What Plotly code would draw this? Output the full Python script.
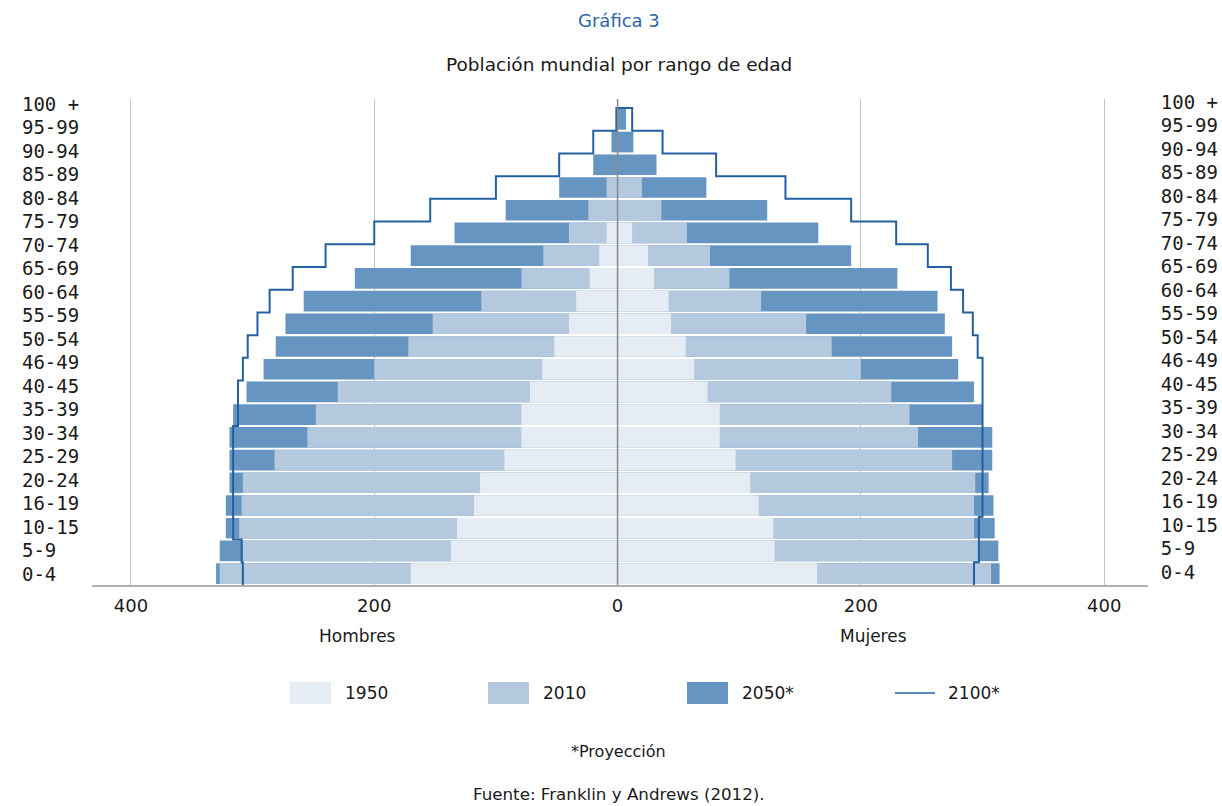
import plotly.graph_objects as go

# ---------------- data (millions) ----------------
age_groups = ["0-4", "5-9", "10-15", "16-19", "20-24", "25-29", "30-34", "35-39",
              "40-45", "46-49", "50-54", "55-59", "60-64", "65-69", "70-74", "75-79",
              "80-84", "85-89", "90-94", "95-99", "100 +"]

men_1950 = [170, 137, 132, 118, 113, 93, 79, 79, 72, 62, 52, 40, 34, 23, 15, 9, 0, 0, 0, 0, 0]
men_2010 = [327, 308, 311, 309, 308, 282, 255, 248, 230, 200, 172, 152, 112, 79, 61, 40, 24, 9, 0, 0, 0]
men_2050 = [330, 327, 322, 322, 319, 319, 319, 316, 305, 291, 281, 273, 258, 216, 170, 134, 92, 48, 20, 5, 1]
men_2100 = [308, 309, 316, 316, 316, 316, 316, 312, 312, 308, 304, 296, 286, 267, 240, 200, 154, 100, 48, 20, 1]

women_1950 = [164, 129, 128, 116, 109, 97, 84, 84, 74, 63, 56, 44, 42, 30, 25, 12, 0, 0, 0, 0, 0]
women_2010 = [307, 297, 293, 293, 294, 275, 247, 240, 225, 200, 176, 155, 118, 92, 76, 57, 36, 20, 0, 0, 0]
women_2050 = [314, 313, 310, 309, 305, 308, 308, 300, 293, 280, 275, 269, 263, 230, 192, 165, 123, 73, 32, 13, 7]
women_2100 = [293, 297, 297, 300, 300, 300, 300, 300, 300, 300, 296, 292, 284, 274, 255, 229, 192, 138, 81, 37, 12]

series_names = ["1950", "2010", "2050*", "2100*"]
x_tick_vals = [-400, -200, 0, 200, 400]
x_tick_text = ["400", "200", "0", "200", "400"]

# ---------------- style ----------------
C1950 = "#e5ecf4"
C2010 = "#b4c9de"
C2050 = "#6795c1"
CLINE = "#2460a0"
TEXT = "#1a1a1a"
FONT = "DejaVu Sans"
MONO = "DejaVu Sans Mono"

W, H = 1222, 806
L, R, T, B = 92, 74, 99, 221
PW, PH = W - L - R, H - T - B


def px(xp):
    return (xp - L) / PW


def py(yp):
    return (H - B - yp) / PH


n = len(age_groups)
idx = list(range(n))

fig = go.Figure()

# bars: 2050 at back, 2010, 1950 in front
for name, m, w, col in [("2050*", men_2050, women_2050, C2050),
                        ("2010", men_2010, women_2010, C2010),
                        ("1950", men_1950, women_1950, C1950)]:
    fig.add_trace(go.Bar(y=idx, x=[-v for v in m], orientation="h", width=0.91,
                         marker=dict(color=col, line=dict(width=0)), name=name,
                         showlegend=False, hoverinfo="skip"))
    fig.add_trace(go.Bar(y=idx, x=w, orientation="h", width=0.91,
                         marker=dict(color=col, line=dict(width=0)), name=name,
                         showlegend=False, hoverinfo="skip"))

# 2100 outline as stepped line (men bottom->top, across top, women top->bottom)
lx = [-men_2100[0]] + [-v for v in men_2100] + [-men_2100[-1], women_2100[-1]] \
     + women_2100[::-1] + [women_2100[0]]
ly = [-0.5] + idx + [n - 0.5, n - 0.5] + idx[::-1] + [-0.5]
fig.add_trace(go.Scatter(x=lx, y=ly, mode="lines", name="2100*",
                         line=dict(color=CLINE, width=2, shape="vhv"),
                         showlegend=False, hoverinfo="skip"))

# invisible traces carrying the left / right age-label axes
for ax in ["y2", "y3"]:
    fig.add_trace(go.Scatter(x=[0] * n, y=idx, yaxis=ax, mode="markers",
                             marker=dict(opacity=0), showlegend=False, hoverinfo="skip"))

left_labels = [a.ljust(5, "\u00a0") for a in age_groups]

fig.update_layout(
    width=W, height=H,
    margin=dict(l=L, r=R, t=T, b=B, autoexpand=False),
    paper_bgcolor="white", plot_bgcolor="white",
    barmode="overlay",
    font=dict(family=FONT, size=17, color=TEXT),
    xaxis=dict(range=[-432, 436], tickvals=x_tick_vals, ticktext=x_tick_text,
               showgrid=True, gridcolor="#c4c4c4", gridwidth=1.2, automargin=False,
               zeroline=False, showline=True, linecolor="#b0b0b0", linewidth=1.5,
               ticks="outside", ticklen=4, tickcolor="rgba(0,0,0,0)",
               tickfont=dict(family=FONT, size=18, color=TEXT), fixedrange=True),
    yaxis=dict(range=[-0.5, n - 0.5 + 9 / 22.714], showticklabels=False, automargin=False,
               showgrid=False, zeroline=False, showline=False, fixedrange=True),
    yaxis2=dict(overlaying="y", side="left", range=[-0.468, 20.213], automargin=False,
                tickvals=idx, ticktext=left_labels, showgrid=False, zeroline=False,
                showline=False, ticks="outside", ticklen=8, tickcolor="rgba(0,0,0,0)",
                tickfont=dict(family=MONO, size=19, color=TEXT), fixedrange=True),
    yaxis3=dict(overlaying="y", side="right", range=[-0.553, 20.128], automargin=False,
                tickvals=idx, ticktext=age_groups, showgrid=False, zeroline=False,
                showline=False, ticks="outside", ticklen=8, tickcolor="rgba(0,0,0,0)",
                tickfont=dict(family=MONO, size=19, color=TEXT), fixedrange=True),
)

# zero line above bars
fig.add_shape(type="line", xref="x", yref="paper", x0=0, x1=0, y0=0, y1=1,
              line=dict(color="#8a8a8a", width=1.5), layer="above")

ann = []
ann.append(dict(text="Gráfica 3", x=px(619), y=py(20), font=dict(size=18, color="#2d66a8")))
ann.append(dict(text="Población mundial por rango de edad", x=px(619), y=py(64),
                font=dict(size=18.5, color=TEXT)))
ann.append(dict(text="Hombres", x=px(357), y=py(636), font=dict(size=17, color=TEXT)))
ann.append(dict(text="Mujeres", x=px(873), y=py(636), font=dict(size=17, color=TEXT)))
ann.append(dict(text="*Proyección", x=px(618), y=py(751), font=dict(size=16, color=TEXT)))
ann.append(dict(text="Fuente: Franklin y Andrews (2012).", x=px(619), y=py(794),
                font=dict(size=16.7, color=TEXT)))

# custom legend
sw_x = [290, 488, 687]
sw_col = [C1950, C2010, C2050]
for i in range(3):
    fig.add_shape(type="rect", xref="paper", yref="paper",
                  x0=px(sw_x[i]), x1=px(sw_x[i] + 41), y0=py(704), y1=py(682),
                  fillcolor=sw_col[i], line=dict(width=0))
    ann.append(dict(text=series_names[i], x=px(sw_x[i] + 53), y=py(693), xanchor="left",
                    font=dict(size=17, color=TEXT)))
fig.add_shape(type="line", xref="paper", yref="paper", x0=px(895), x1=px(935),
              y0=py(693), y1=py(693), line=dict(color=CLINE, width=1.5))
ann.append(dict(text=series_names[3], x=px(946), y=py(693), xanchor="left",
                font=dict(size=17, color=TEXT)))

for a in ann:
    a.setdefault("xanchor", "center")
    a.update(xref="paper", yref="paper", yanchor="middle", showarrow=False)
fig.update_layout(annotations=ann)

fig.write_html("out.html", config={"displayModeBar": False},
               post_script="document.body.style.margin='0';document.body.style.overflow='hidden';")
